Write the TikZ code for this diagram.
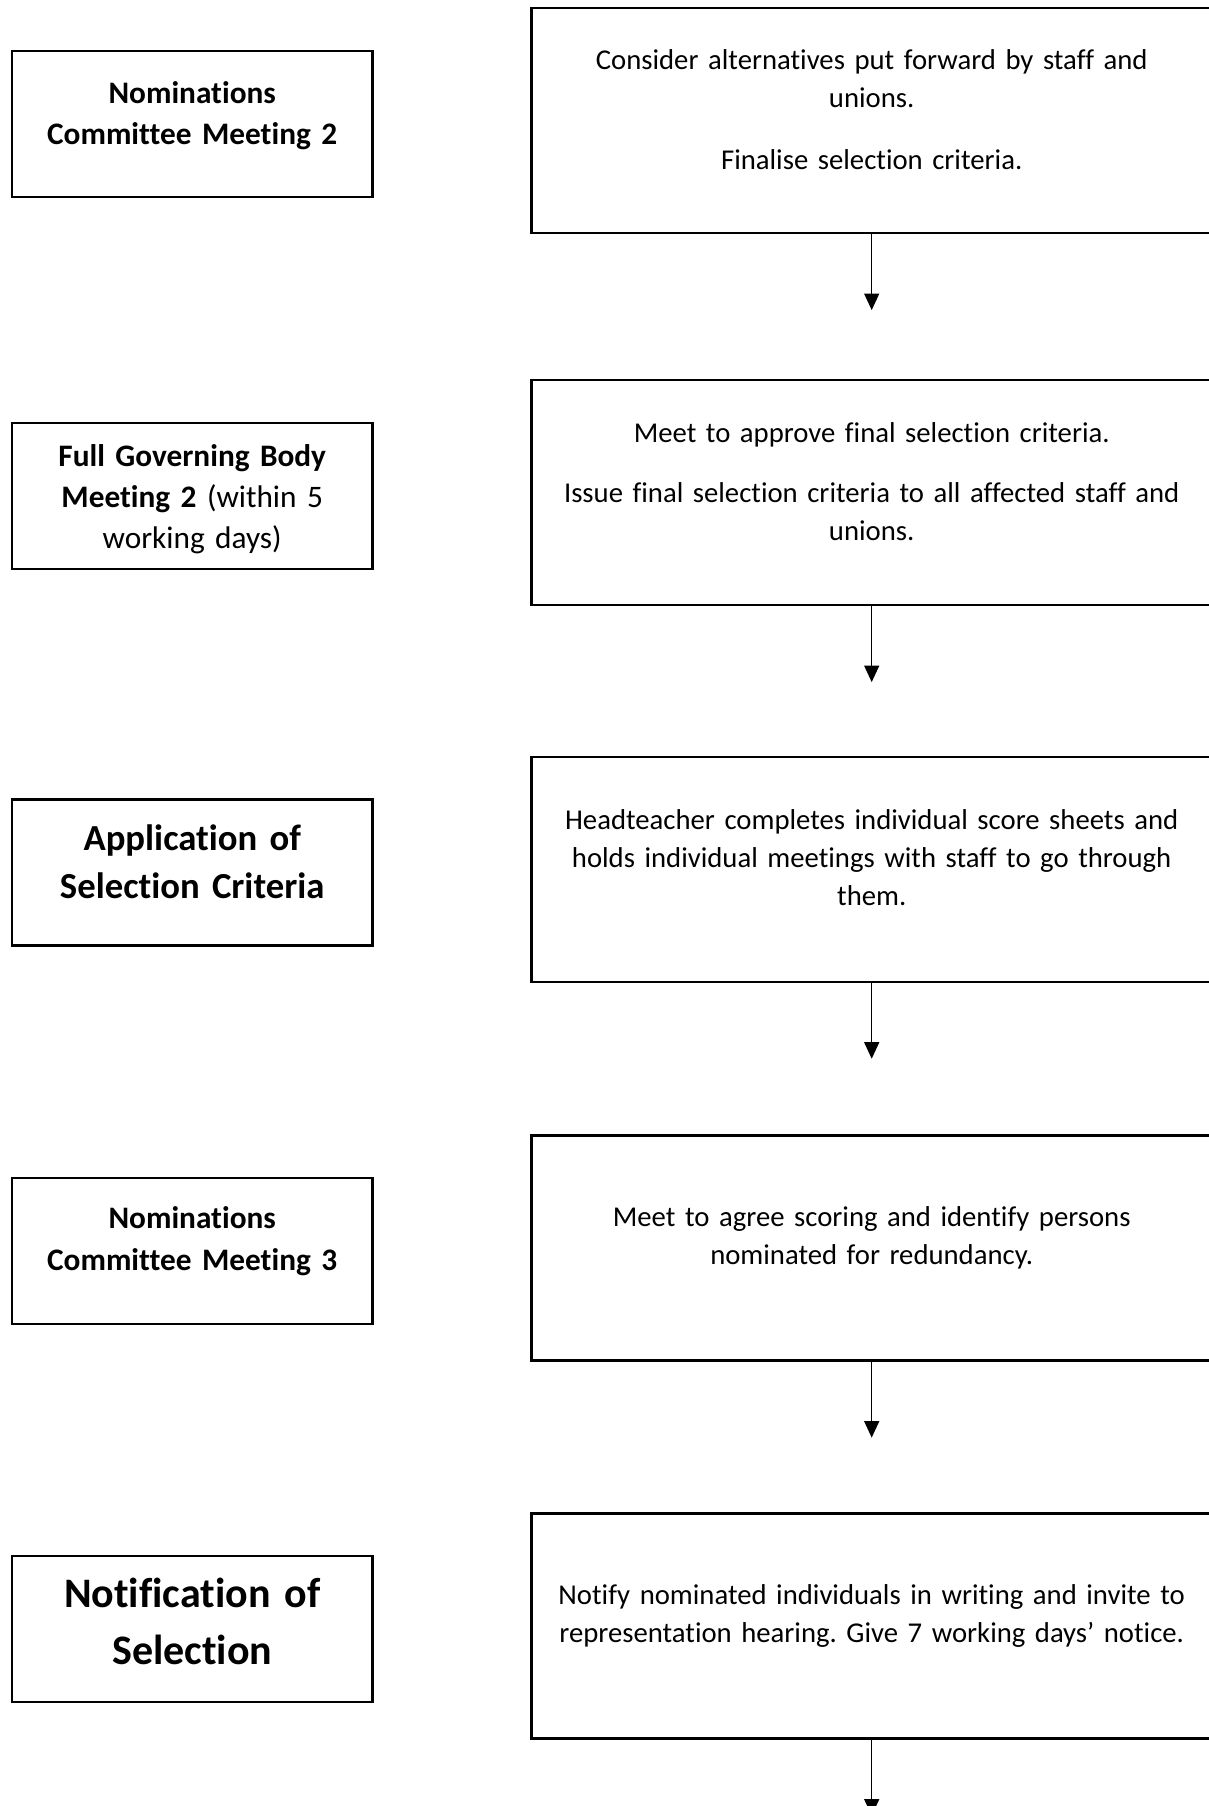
\documentclass[tikz,border=0pt]{standalone}
\usepackage{fontspec}
\setmainfont{Carlito}[Ligatures=NoCommon]
\frenchspacing
\usetikzlibrary{arrows.meta,calc}
\begin{document}
\begin{tikzpicture}[x=1pt,y=-1pt,
  lbox/.style={draw=black,line width=2.2pt,minimum width=360.5pt,minimum height=146pt,inner sep=0pt},
  rbox/.style={draw=black,line width=2.2pt,minimum width=680.5pt,minimum height=225pt,inner sep=0pt},
  rtxt/.style={inner sep=0pt,text width=670pt,align=center,anchor=base,font=\fontsize{28.7}{38}\selectfont},
  ltxt/.style={inner sep=0pt,text width=350pt,align=center,anchor=base,font=\fontsize{31.3}{41}\selectfont},
  lbig/.style={inner sep=0pt,text width=350pt,align=center,anchor=base,font=\fontsize{36.7}{48.5}\selectfont\bfseries},
  lhuge/.style={inner sep=0pt,text width=350pt,align=center,anchor=base,font=\fontsize{42}{56.5}\selectfont\bfseries},
  flow/.style={line width=1.3pt,-{Triangle[length=16.5pt,width=15pt]}}]
\useasboundingbox (0,0) rectangle (1208,1806);
% left boxes
\node[lbox] (l1) at (192.2,124) {};
\node[lbox] (l2) at (192.2,495.6) {};
\node[lbox] (l3) at (192.2,872.5) {};
\node[lbox] (l4) at (192.2,1251) {};
\node[lbox] (l5) at (192.2,1629) {};
% right boxes
\node[rbox] (r1) at (871.7,120.5) {};
\node[rbox] (r2) at (871.7,492.5) {};
\node[rbox] (r3) at (871.7,869.1) {};
\node[rbox] (r4) at (871.7,1248) {};
\node[rbox] (r5) at (871.7,1626) {};
% left texts
\node[ltxt,font=\fontsize{31.3}{41}\selectfont\bfseries] (lt1) at (192.2,103.3) {Nominations\\Committee Meeting 2};
\node[ltxt] (lt2) at (192.2,466) {\textbf{Full Governing Body}\\\textbf{Meeting 2} (within 5\\working days)};
\node[lbig] (lt3) at (192.2,850) {Application of\\Selection Criteria};
\node[ltxt,font=\fontsize{31.3}{42.5}\selectfont\bfseries] (lt4) at (192.2,1228.3) {Nominations\\Committee Meeting 3};
\node[lhuge] (lt5) at (192.2,1607.5) {Notification of\\Selection};
% right texts
\node[rtxt] (rt1) at (871.7,70) {Consider alternatives put forward by staff and\\unions.\\[24pt]Finalise selection criteria.};
\node[rtxt] (rt2) at (871.7,442.5) {Meet to approve final selection criteria.\\[22pt]Issue final selection criteria to all affected staff and\\unions.};
\node[rtxt] (rt3) at (871.7,829.5) {Headteacher completes individual score sheets and\\holds individual meetings with staff to go through\\them.};
\node[rtxt] (rt4) at (871.7,1226.5) {Meet to agree scoring and identify persons\\nominated for redundancy.};
\node[rtxt] (rt5) at (871.7,1604.5) {Notify nominated individuals in writing and invite to\\representation hearing. Give 7 working days’ notice.};
% arrows
\coordinate (e1) at ($(r1.south)+(0,76)$);
\coordinate (e2) at ($(r2.south)+(0,76)$);
\coordinate (e3) at ($(r3.south)+(0,76)$);
\coordinate (e4) at ($(r4.south)+(0,76)$);
\coordinate (e5) at ($(r5.south)+(0,76)$);
\draw[flow] (r1.south) -- (e1);
\draw[flow] (r2.south) -- (e2);
\draw[flow] (r3.south) -- (e3);
\draw[flow] (r4.south) -- (e4);
\draw[flow] (r5.south) -- (e5);
\end{tikzpicture}
\end{document}
